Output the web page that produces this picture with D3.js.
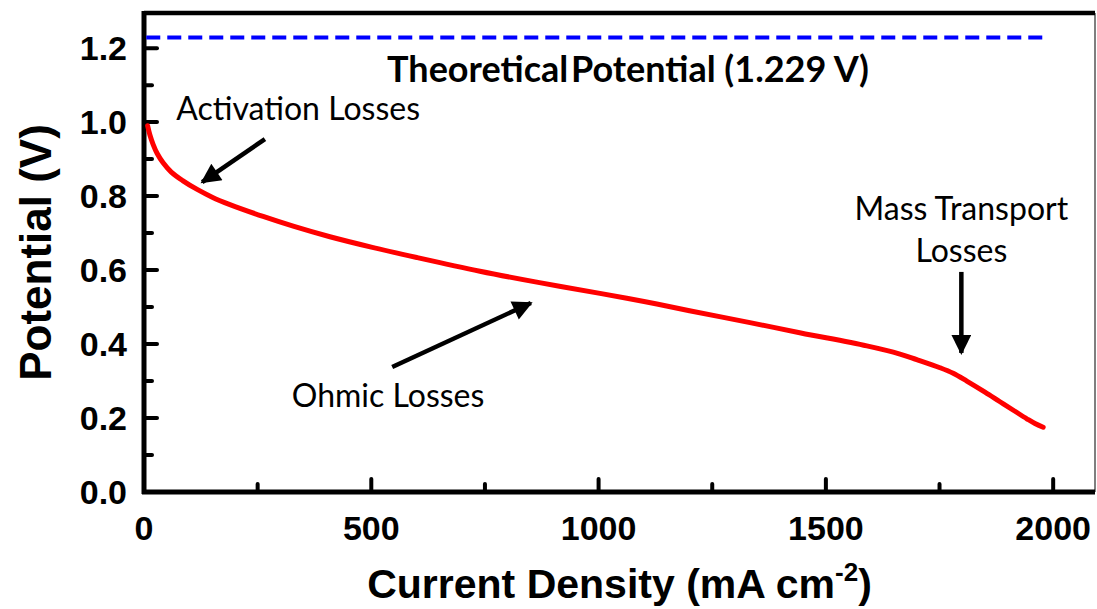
<!DOCTYPE html>
<html>
<head>
<meta charset="utf-8">
<script src="https://cdn.jsdelivr.net/npm/d3@7"></script>
<style>
  body { margin: 0; background: #fff; }
  svg { display: block; }
</style>
</head>
<body>
<div id="chart"></div>
<script>
// polarization curve
const currentDensity = [8, 13, 20, 29, 42, 60, 85, 117, 150, 189, 262, 330, 409, 500, 600, 739, 870, 1003, 1100, 1200, 1333, 1445, 1590, 1663, 1700, 1751, 1780, 1810, 1850, 1883, 1915, 1942, 1960, 1978];
const potential      = [0.99, 0.965, 0.94, 0.915, 0.89, 0.865, 0.842, 0.818, 0.797, 0.777, 0.745, 0.718, 0.69, 0.662, 0.634, 0.597, 0.566, 0.537, 0.515, 0.49, 0.458, 0.43, 0.395, 0.373, 0.358, 0.336, 0.321, 0.3, 0.27, 0.244, 0.219, 0.198, 0.185, 0.175];

const theoretical = 1.229;
const theoreticalRange = [5, 1980];

const xMajor = [0, 500, 1000, 1500, 2000];
const xMinor = [250, 750, 1250, 1750];
const yMajor = [0, 0.2, 0.4, 0.6, 0.8, 1.0, 1.2];
const yMinor = [0.1, 0.3, 0.5, 0.7, 0.9, 1.1];

// annotations: label lines, text anchor (x, v), arrow from, arrow to
const notes = [
  { lines: ["Activation Losses"], at: [339, 1.005], from: [266, 0.954], to: [128, 0.838] },
  { lines: ["Ohmic Losses"], at: [537, 0.23], from: [546, 0.338], to: [851, 0.511] },
  { lines: ["Mass Transport", "Losses"], at: [1798, 0.735], from: [1798, 0.595], to: [1798, 0.376] }
];

const W = 1097, H = 609;
const margin = { top: 13, right: 2, bottom: 117, left: 144 };

const x = d3.scaleLinear().domain([0, 2092]).range([margin.left, W - margin.right]);
const y = d3.scaleLinear().domain([0, 1.295]).range([H - margin.bottom, margin.top]);

const svg = d3.select("#chart").append("svg")
    .attr("width", W)
    .attr("height", H);

svg.append("defs").append("marker")
    .attr("id", "head")
    .attr("viewBox", "0 0 10 10")
    .attr("refX", 9).attr("refY", 5)
    .attr("markerWidth", 5).attr("markerHeight", 4.4)
    .attr("markerUnits", "strokeWidth")
    .attr("orient", "auto")
  .append("path")
    .attr("d", "M0,0 L10,5 L0,10 Z")
    .attr("fill", "#000");

// frame: thin right border, thick top
svg.append("line")
    .attr("x1", W - margin.right).attr("x2", W - margin.right)
    .attr("y1", margin.top).attr("y2", H - margin.bottom)
    .attr("stroke", "#555").attr("stroke-width", 1.5);
svg.append("line")
    .attr("x1", margin.left).attr("x2", W - margin.right)
    .attr("y1", margin.top).attr("y2", margin.top)
    .attr("stroke", "#000").attr("stroke-width", 4.5);

// ticks (inward)
const tickG = svg.append("g")
    .attr("stroke", "#000")
    .attr("stroke-width", 4)
    .attr("stroke-linecap", "round");

tickG.selectAll(".xmaj").data(xMajor).join("line")
    .attr("x1", d => x(d)).attr("x2", d => x(d))
    .attr("y1", y(0)).attr("y2", y(0) - 13);
tickG.selectAll(".xmin").data(xMinor).join("line")
    .attr("x1", d => x(d)).attr("x2", d => x(d))
    .attr("y1", y(0)).attr("y2", y(0) - 8);
tickG.selectAll(".ymaj").data(yMajor).join("line")
    .attr("y1", d => y(d)).attr("y2", d => y(d))
    .attr("x1", x(0)).attr("x2", x(0) + 13);
tickG.selectAll(".ymin").data(yMinor).join("line")
    .attr("y1", d => y(d)).attr("y2", d => y(d))
    .attr("x1", x(0)).attr("x2", x(0) + 8);

// axis lines
svg.append("line")
    .attr("x1", x(0)).attr("x2", x(0))
    .attr("y1", margin.top - 2).attr("y2", y(0) + 2)
    .attr("stroke", "#000").attr("stroke-width", 5);
svg.append("line")
    .attr("x1", x(0) - 2).attr("x2", W - margin.right)
    .attr("y1", y(0)).attr("y2", y(0))
    .attr("stroke", "#000").attr("stroke-width", 5);

// tick labels
const labelFont = "'Liberation Sans', Arial, sans-serif";
svg.append("g").selectAll("text").data(xMajor).join("text")
    .attr("x", d => x(d))
    .attr("y", 540)
    .attr("text-anchor", "middle")
    .attr("font-family", labelFont)
    .attr("font-weight", "bold")
    .attr("font-size", 34)
    .text(d => d);

svg.append("g").selectAll("text").data(yMajor).join("text")
    .attr("x", 127)
    .attr("y", d => y(d) + 12)
    .attr("text-anchor", "end")
    .attr("font-family", labelFont)
    .attr("font-weight", "bold")
    .attr("font-size", 34)
    .text(d => d.toFixed(1));

// axis titles
const xTitle = svg.append("text")
    .attr("x", (margin.left + W - margin.right) / 2)
    .attr("y", 598)
    .attr("text-anchor", "middle")
    .attr("font-family", labelFont)
    .attr("font-weight", "bold")
    .attr("font-size", 41);
xTitle.append("tspan").text("Current Density (mA cm");
xTitle.append("tspan").attr("font-size", 26).attr("dy", -17).text("-2");
xTitle.append("tspan").attr("dy", 17).text(")");

svg.append("text")
    .attr("transform", `translate(51,${(margin.top + H - margin.bottom) / 2}) rotate(-90)`)
    .attr("text-anchor", "middle")
    .attr("font-family", labelFont)
    .attr("font-weight", "bold")
    .attr("font-size", 44)
    .text("Potential (V)");

// theoretical potential
svg.append("line")
    .attr("x1", x(theoreticalRange[0])).attr("x2", x(theoreticalRange[1]))
    .attr("y1", y(theoretical)).attr("y2", y(theoretical))
    .attr("stroke", "#0000ff")
    .attr("stroke-width", 4)
    .attr("stroke-dasharray", "14,7");

const theo = svg.append("text")
    .attr("x", 628)
    .attr("y", 82)
    .attr("text-anchor", "middle")
    .attr("font-family", "Lato, 'Open Sans', sans-serif")
    .attr("font-weight", "bold")
    .attr("font-size", 36);
theo.append("tspan").text("Theoretical");
theo.append("tspan").attr("dx", 3).text(`Potential (${theoretical} V)`);

// curve
const pts = currentDensity.map((c, i) => [c, potential[i]]);
svg.append("path")
    .datum(pts)
    .attr("fill", "none")
    .attr("stroke", "#ff0000")
    .attr("stroke-width", 5)
    .attr("stroke-linecap", "round")
    .attr("d", d3.line().x(d => x(d[0])).y(d => y(d[1])).curve(d3.curveCatmullRom.alpha(0.5)));

// annotations
const noteG = svg.append("g").selectAll("g").data(notes).join("g");

noteG.append("line")
    .attr("x1", d => x(d.from[0])).attr("y1", d => y(d.from[1]))
    .attr("x2", d => x(d.to[0])).attr("y2", d => y(d.to[1]))
    .attr("stroke", "#000")
    .attr("stroke-width", 4.5)
    .attr("marker-end", "url(#head)");

noteG.append("text")
    .attr("text-anchor", "middle")
    .attr("font-family", "Lato, 'Open Sans', sans-serif")
    .attr("font-size", 32)
    .attr("fill", "#000")
    .selectAll("tspan").data(d => d.lines.map((t, i) => ({ t, i, d }))).join("tspan")
    .attr("x", o => x(o.d.at[0]))
    .attr("y", o => y(o.d.at[1]) + o.i * 42)
    .text(o => o.t);
</script>
</body>
</html>
